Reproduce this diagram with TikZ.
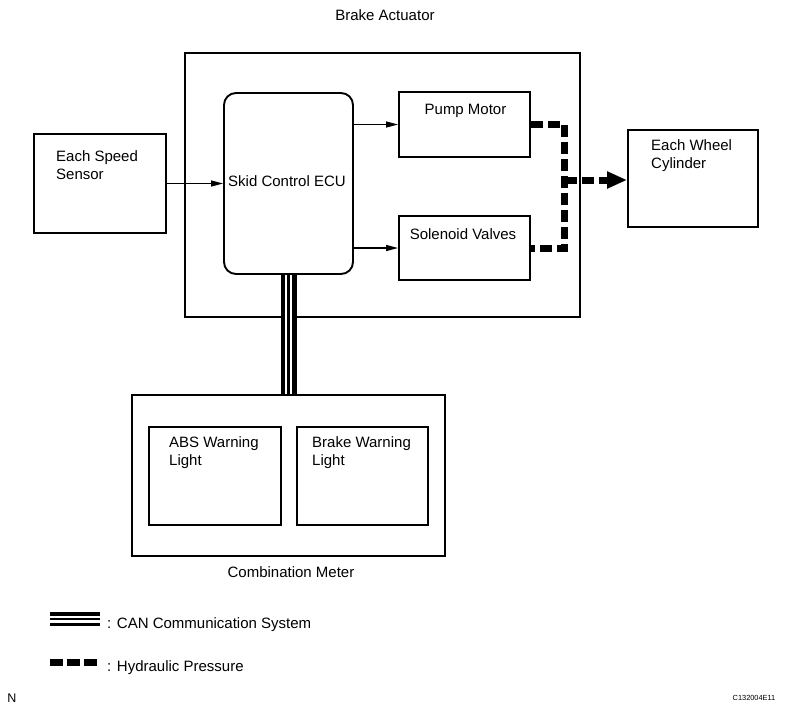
\documentclass[tikz,border=0pt]{standalone}
\usepackage{fontspec}
\setmainfont{Liberation Sans}
\usetikzlibrary{arrows.meta}
\begin{document}
\begin{tikzpicture}[x=1pt,y=-1pt,
  box/.style={draw, line width=1.9pt, rectangle, inner sep=0pt},
  lbl/.style={font=\fontsize{15}{18}\selectfont, inner sep=0pt, align=left},
  sig/.style={line width=1.4pt, -{Triangle[length=12pt,width=6pt]}},
  hyd/.style={line width=7pt, dash pattern=on 12pt off 5pt, line join=miter},
  can/.style={line width=16pt, postaction={draw, white, line width=7pt}, postaction={draw, black, line width=3pt}},
  canleg/.style={line width=14pt, postaction={draw, white, line width=7pt}, postaction={draw, black, line width=2.2pt}},
]
\useasboundingbox[fill=white] (0,0) rectangle (790,715);

% boxes
\node[box, minimum width=395pt, minimum height=264pt] (act) at (382.7,185) {};
\node[box, rounded corners=12pt, minimum width=129pt, minimum height=181pt] (ecu) at (288.5,183.5) {};
\node[box, minimum width=131pt, minimum height=65pt] (pump) at (464.5,124.5) {};
\node[box, minimum width=131pt, minimum height=64pt] (sol) at (464.5,248) {};
\node[box, minimum width=132pt, minimum height=99pt] (speed) at (100,183.5) {};
\node[box, minimum width=130pt, minimum height=97pt] (wheel) at (693,178.5) {};
\node[box, minimum width=313pt, minimum height=161pt] (meter) at (288.5,475.5) {};
\node[box, minimum width=132pt, minimum height=98pt] (abs) at (215,476) {};
\node[box, minimum width=131pt, minimum height=98pt] (bwl) at (362.5,476) {};

% labels
\node[lbl, anchor=base] (tact) at (385,20.4) {Brake Actuator};
\node[lbl, anchor=base] (tmeter) at (291,577.4) {Combination Meter};
\node[lbl, anchor=base] (tecu) at (287,186.4) {Skid Control ECU};
\node[lbl, anchor=base] (tpump) at (465.5,114.4) {Pump Motor};
\node[lbl, anchor=base] (tsol) at (463,239.4) {Solenoid Valves};
\node[lbl, anchor=west] (tspeed) at (56,165.5) {Each Speed\\Sensor};
\node[lbl, anchor=west] (twheel) at (651,156) {Each Wheel\\Cylinder};
\node[lbl, anchor=west] (tabs) at (169,453) {ABS Warning\\Light};
\node[lbl, anchor=west] (tbwl) at (312,453) {Brake Warning\\Light};

% signal arrows
\draw[sig] (speed.east) -- (ecu.west);
\draw[sig] (ecu.east |- pump.west) -- (pump.west);
\draw[sig] (ecu.east |- sol.west) -- (sol.west);

% hydraulic
\coordinate (hj) at (564.5,180);
\draw[hyd] (pump.east) -| (hj |- sol.east) -- (sol.east);
\draw[hyd, -{Triangle[length=20pt,width=16pt]}] (hj) -- (hj -| wheel.west);

% CAN
\draw[can] (ecu.south) -- (meter.north);

% legend
\coordinate (cl1) at (50,619);
\coordinate (cl2) at (100,619);
\draw[canleg] (cl1) -- (cl2);
\node[lbl, anchor=base west] (tcan) at (107,628) {: CAN Communication System};
\coordinate (hl1) at (50,662);
\coordinate (hl2) at (98,662);
\draw[line width=7pt, dash pattern=on 13pt off 4pt] (hl1) -- (hl2);
\node[lbl, anchor=base west] (thyd) at (107,671) {: Hydraulic Pressure};

% corner marks
\node[inner sep=0pt, font=\fontsize{12.5}{14}\selectfont] (tn) at (12,698) {N};
\node[inner sep=0pt, font=\fontsize{7.4}{9}\selectfont] (tcode) at (754,698) {C132004E11};
\end{tikzpicture}
\end{document}
